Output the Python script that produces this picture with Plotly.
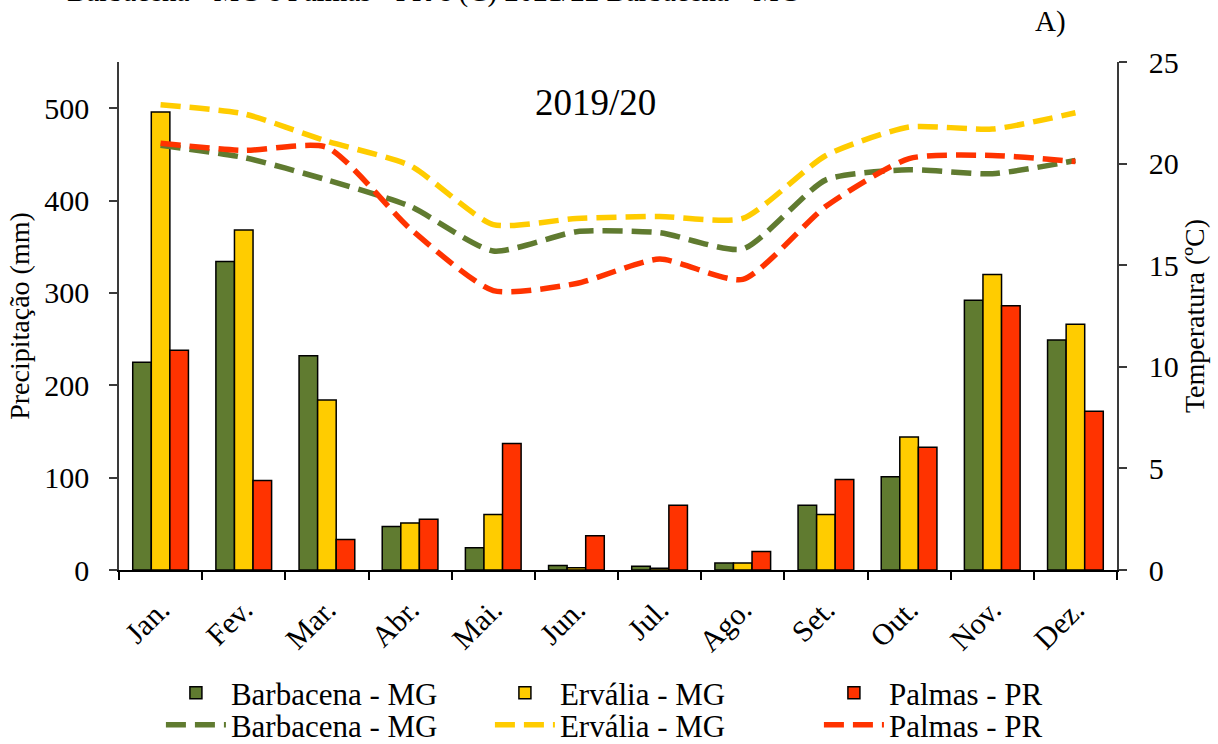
import plotly.graph_objects as go

months = ["Jan.", "Fev.", "Mar.", "Abr.", "Mai.", "Jun.", "Jul.", "Ago.", "Set.", "Out.", "Nov.", "Dez."]

# Precipitation (mm)
prec_barbacena = [225, 334, 232, 47, 24, 5, 4, 7.5, 70, 101, 292, 249]
prec_ervalia = [496, 368, 184, 51, 60, 2.5, 2, 7.5, 60, 144, 320, 266]
prec_palmas = [238, 97, 33, 55, 137, 37, 70, 20, 98, 133, 286, 172]

# Temperature (ºC)
temp_barbacena = [20.9, 20.3, 19.2, 17.9, 15.7, 16.65, 16.6, 15.8, 19.2, 19.7, 19.5, 20.15]
temp_ervalia = [22.9, 22.45, 21.1, 19.9, 17.0, 17.3, 17.4, 17.3, 20.4, 21.8, 21.7, 22.5]
temp_palmas = [21.0, 20.65, 20.8, 16.8, 13.75, 14.1, 15.3, 14.3, 17.9, 20.25, 20.4, 20.1]

left_ticks = [0, 100, 200, 300, 400, 500]
right_ticks = [0, 5, 10, 15, 20, 25]

names = ["Barbacena - MG", "Ervália - MG", "Palmas - PR"]
colors = ["#607B30", "#FFCC00", "#FF3300"]

FONT = "Times New Roman"

fig = go.Figure()

for name, vals, col in zip(names, [prec_barbacena, prec_ervalia, prec_palmas], colors):
    fig.add_trace(go.Bar(
        x=months, y=vals, name=name,
        marker=dict(color=col, line=dict(color="black", width=1.5)),
        yaxis="y", legend="legend",
    ))

for name, vals, col in zip(names, [temp_barbacena, temp_ervalia, temp_palmas], colors):
    fig.add_trace(go.Scatter(
        x=months, y=vals, name=name, mode="lines",
        line=dict(color=col, width=5.5, dash="20px,9px", shape="spline", smoothing=0.6),
        yaxis="y2", legend="legend2",
    ))

def legend_cfg(ypix):
    return dict(
        orientation="h", x=0.042, xanchor="left", yanchor="middle",
        y=1 - (ypix - 62) / 508,
        entrywidth=254, entrywidthmode="pixels",
        font=dict(family=FONT, size=31, color="black"),
        traceorder="normal", itemwidth=60,
        bgcolor="rgba(0,0,0,0)",
    )

fig.update_layout(
    width=1218, height=744,
    margin=dict(l=119, r=101, t=62, b=174, autoexpand=False),
    paper_bgcolor="white", plot_bgcolor="white",
    font=dict(family=FONT, size=30, color="black"),
    barmode="group", bargap=0.33, bargroupgap=0,
    showlegend=True,
    legend=legend_cfg(693),
    legend2=legend_cfg(725),
    xaxis=dict(
        type="category", tickangle=-45, showgrid=False, automargin=False,
        showline=True, linecolor="black", linewidth=2,
        ticks="outside", tickson="boundaries", ticklen=8, tickwidth=1.5, tickcolor="black",
        tickfont=dict(family=FONT, size=30), ticklabelstandoff=8,
    ),
    yaxis=dict(
        range=[0, 550], tickvals=left_ticks, showgrid=False, zeroline=False, automargin=False,
        showline=True, linecolor="#3a3a3a", linewidth=1.5,
        ticks="outside", ticklen=8, tickwidth=1.5, tickcolor="#3a3a3a",
        tickfont=dict(family=FONT, size=30), ticklabelstandoff=14,
        title=dict(text="Precipitação (mm)", font=dict(family=FONT, size=28), standoff=6),
    ),
    yaxis2=dict(
        range=[0, 25], tickvals=right_ticks, overlaying="y", side="right", automargin=False,
        showgrid=False, zeroline=False,
        showline=True, linecolor="#3a3a3a", linewidth=1.5,
        ticks="outside", ticklen=8, tickwidth=1.5, tickcolor="#3a3a3a",
        tickfont=dict(family=FONT, size=30), ticklabelstandoff=16,
        title=dict(text="Temperatura (ºC)", font=dict(family=FONT, size=28), standoff=6),
    ),
    annotations=[
        dict(text="2019/20", xref="paper", yref="paper", x=0.477, y=0.921,
             xanchor="center", yanchor="middle", showarrow=False,
             font=dict(family=FONT, size=37)),
        dict(text="A)", xref="paper", yref="paper", x=0.916, y=1.079,
             xanchor="left", yanchor="middle", showarrow=False,
             font=dict(family=FONT, size=29)),
        dict(text="Barbacena - MG e Palmas - PR e (C) 2021/22 Barbacena - MG",
             xref="paper", yref="paper", x=-0.054, y=1.102,
             xanchor="left", yanchor="bottom", showarrow=False,
             font=dict(family=FONT, size=29)),
    ],
)

fig.write_html(
    "out.html",
    config={"displayModeBar": False},
    post_script="document.body.style.margin='0';document.body.style.padding='0';",
)
